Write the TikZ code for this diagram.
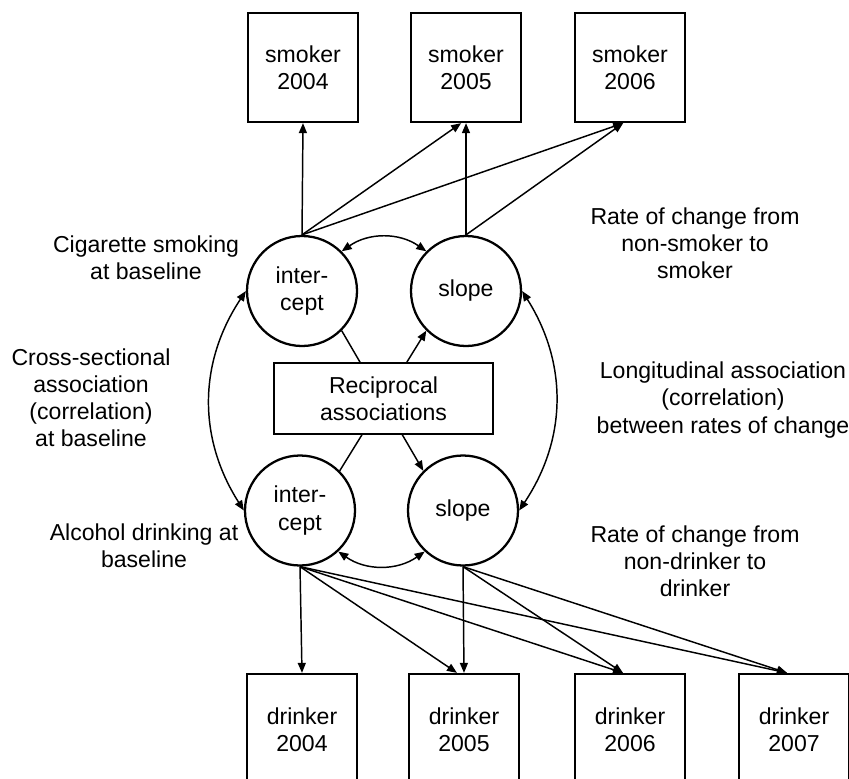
\documentclass[tikz,border=0pt]{standalone}
\usepackage{fontspec}
\setmainfont{Liberation Sans}
\usetikzlibrary{arrows.meta}

\tikzset{every picture/.style={line width=1.1pt}}
\tikzset{
  obsbox/.style={draw, line width=1.7pt, minimum width=82.5pt, minimum height=81.75pt, inner sep=0pt, align=center},
  latent/.style={circle, draw, line width=1.7pt, minimum size=82.5pt, inner sep=0pt, align=center},
  recipbox/.style={draw, fill=white, line width=1.3pt, minimum width=164pt, minimum height=53pt, inner sep=0pt, align=center},
  lbl/.style={align=center},
  conn/.style={-{Triangle[length=7.5pt,width=6pt]}},
  dconn/.style={{Triangle[length=7.5pt,width=6pt]}-{Triangle[length=7.5pt,width=6pt]}}
}

\begin{document}
\begin{tikzpicture}[x=0.75pt,y=0.75pt,yscale=-1,xscale=1,font=\fontsize{17.3}{20.3}\selectfont]
\useasboundingbox (0,0) rectangle (849,778);

% smoker boxes
\node[obsbox] (smk04) at (303,67.5) {smoker\\2004};
\node[obsbox] (smk05) at (466,67.5) {smoker\\2005};
\node[obsbox] (smk06) at (630,67.5) {smoker\\2006};

% growth factors
\node[latent] (intS) at (302,291) {inter-\\cept};
\node[latent] (slpS) at (466,291) {slope};
\node[latent] (intD) at (300,510.5) {inter-\\cept};
\node[latent] (slpD) at (463,510.5) {slope};

% drinker boxes
\node[obsbox, minimum height=84pt] (drk04) at (302,730) {drinker\\2004};
\node[obsbox, minimum height=84pt] (drk05) at (464,730) {drinker\\2005};
\node[obsbox, minimum height=84pt] (drk06) at (630,730) {drinker\\2006};
\node[obsbox, minimum height=84pt] (drk07) at (794,730) {drinker\\2007};

% loadings smoking
\draw[conn] (intS.north) -- (smk04.south);
\draw[conn] (intS.north) -- (smk05.-95);
\draw[conn] (slpS.north) -- (smk05.south);
\draw[conn] (intS.north) -- (smk06.-97);
\draw[conn] (slpS.north) -- (smk06.-97);

% loadings drinking
\draw[conn] (intD.south) -- (drk04.north);
\draw[conn] (intD.south) -- (drk05.97);
\draw[conn] (slpD.south) -- (drk05.north);
\draw[conn] (intD.south) -- (drk06.97);
\draw[conn] (slpD.south) -- (drk06.97);
\draw[conn] (intD.south) -- (drk07.97);
\draw[conn] (slpD.south) -- (drk07.97);

% correlations
\draw[dconn] (intS.45) to[bend right=35] (slpS.135);
\draw[dconn] (intD.-47) to[bend left=35] (slpD.-133);
\draw[dconn] (intS.west) to[bend left=33] (intD.west);
\draw[dconn] (slpS.east) to[bend right=33] (slpD.east);

% cross-lagged paths
\draw[conn] (intS.-45) -- (slpD.135);
\draw[conn] (intD.45) -- (slpS.-135);
\node[recipbox] (recip) at (383.5,398.5) {Reciprocal\\associations};

% Text Node
\node[lbl] (cigbase) at (146,257.5) {Cigarette smoking\\at baseline};
% Text Node
\node[lbl] (crosssec) at (91,397.5) {Cross-sectional\\association\\(correlation)\\at baseline};
% Text Node
\node[lbl] (alcbase) at (144,546) {Alcohol drinking at\\baseline};
% Text Node
\node[lbl] (ratesmk) at (695,243) {Rate of change from\\non-smoker to\\smoker};
% Text Node
\node[lbl] (longit) at (723,400) {Longitudinal association\\(correlation)\\between rates of change};
% Text Node
\node[lbl] (ratedrk) at (695,561) {Rate of change from\\non-drinker to\\drinker};

\end{tikzpicture}
\end{document}
